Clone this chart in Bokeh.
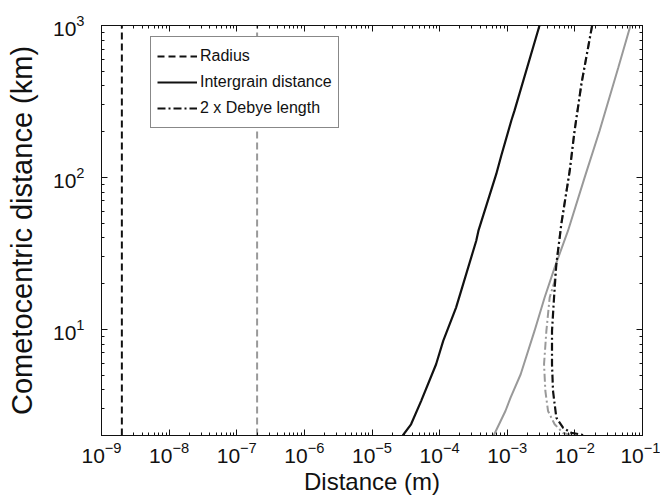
from bokeh.plotting import figure
from bokeh.models import LogAxis, FixedTicker, Legend, LegendItem, Range1d, CustomJSTickFormatter
from bokeh.embed import file_html
from bokeh.resources import INLINE

# ---- data ----
x_decades = [-9, -8, -7, -6, -5, -4, -3, -2, -1]
y_decades = [1, 2, 3]
x_limits = [1e-9, 1e-1]
y_limits = [2, 1000]

radius_km = [2, 1000]
radius_black_m = [2e-9, 2e-9]
radius_gray_m = [2e-7, 2e-7]

inter_black_km = [1000, 275, 237, 139, 105, 44.6, 38.3, 17.9, 13.9, 8.4, 5.89, 3.37, 2.37, 2.0]
inter_black_m = [3.0e-3, 1.28e-3, 1.15e-3, 8.15e-4, 6.87e-4, 3.75e-4, 3.48e-4, 2.08e-4, 1.75e-4,
                 1.13e-4, 8.87e-5, 5.32e-5, 3.78e-5, 2.85e-5]

inter_gray_km = [1000, 531, 203, 100, 44.6, 25.5, 16.2, 9.76, 5.06, 3.55, 2.90, 2.0]
inter_gray_m = [6.64e-2, 4.4e-2, 2.32e-2, 1.396e-2, 7.92e-3, 5.02e-3, 3.57e-3, 2.53e-3, 1.58e-3,
                1.12e-3, 9.4e-4, 6.3e-4]

debye_black_km = [1000, 413, 203, 111, 49.3, 40.2, 26.9, 16.2, 9.76, 5.89, 3.93, 2.62, 2.25, 2.08, 2.03, 2.0]
debye_black_m = [1.8e-2, 1.25e-2, 9.9e-3, 8.4e-3, 6.3e-3, 5.96e-3, 5.32e-3, 4.92e-3, 4.59e-3, 4.59e-3,
                 4.75e-3, 5.32e-3, 6.68e-3, 8.9e-3, 1.25e-2, 1.35e-2]

debye_gray_km = [1000, 413, 203, 111, 49.3, 40.2, 26.9, 20.8, 16.2, 9.76, 5.89, 3.93, 2.90, 2.37, 2.08, 2.0]
debye_gray_m = [1.8e-2, 1.25e-2, 9.9e-3, 8.4e-3, 6.3e-3, 5.96e-3, 5.32e-3, 5.02e-3, 4.24e-3, 3.79e-3,
                3.5e-3, 3.66e-3, 4.01e-3, 5.02e-3, 6.68e-3, 9.4e-3]

labels = ["Radius", "Intergrain distance", "2 x Debye length"]

# ---- styles ----
BLACK = "#111111"
GRAY = "#999999"
FONT = "Liberation Sans"
DASH = "7 4"
DASHDOT = "8 3 2 3"

x_major = [10.0 ** d for d in x_decades]
x_minor = [k * 10.0 ** d for d in x_decades[:-1] for k in range(2, 10)]
y_major = [10.0 ** d for d in y_decades]
y_minor = [k * 10.0 ** d for d in [0] + y_decades[:-1] for k in range(2, 10)]

p = figure(width=660, height=502, x_axis_type="log", y_axis_type="log",
           x_range=Range1d(*x_limits), y_range=Range1d(*y_limits), title=None,
           output_backend="svg", toolbar_location=None,
           min_border_left=101, min_border_right=18, min_border_top=25, min_border_bottom=67,
           background_fill_color="white", border_fill_color="white")
p.xgrid.visible = False
p.ygrid.visible = False
p.outline_line_color = BLACK
p.outline_line_width = 1


def style_axis(ax, ticker, show_labels):
    ax.ticker = ticker
    ax.axis_line_color = BLACK
    ax.major_tick_line_color = BLACK
    ax.minor_tick_line_color = BLACK
    ax.major_tick_in = 6
    ax.major_tick_out = 0
    ax.minor_tick_in = 3
    ax.minor_tick_out = 0
    if not show_labels:
        ax.formatter = CustomJSTickFormatter(code="return ''")
        ax.major_label_text_font_size = "2px"
        ax.major_label_standoff = 0


xt = FixedTicker(ticks=x_major, minor_ticks=x_minor)
yt = FixedTicker(ticks=y_major, minor_ticks=y_minor)

style_axis(p.xaxis[0], xt, True)
style_axis(p.yaxis[0], yt, True)
for ax in (p.xaxis[0], p.yaxis[0]):
    ax.major_label_text_font = FONT
    ax.major_label_text_font_size = "21px"
    ax.major_label_text_color = BLACK
    ax.axis_label_text_font_style = "normal"
    ax.axis_label_text_color = BLACK
    ax.axis_label_text_font = FONT

p.xaxis[0].axis_label = "Distance (m)"
p.xaxis[0].axis_label_text_font_size = "24px"
p.xaxis[0].major_label_standoff = 6
p.xaxis[0].axis_label_standoff = 2

p.yaxis[0].axis_label = "Cometocentric distance (km)"
p.yaxis[0].axis_label_text_font_size = "29px"
p.yaxis[0].major_label_standoff = 17
p.yaxis[0].axis_label_standoff = 12

top = LogAxis()
style_axis(top, FixedTicker(ticks=x_major, minor_ticks=x_minor), False)
p.add_layout(top, "above")
right = LogAxis()
style_axis(right, FixedTicker(ticks=y_major, minor_ticks=y_minor), False)
p.add_layout(right, "right")

# ---- lines ----
p.line(radius_gray_m, radius_km, line_color=GRAY, line_width=2, line_dash=DASH)
p.line(inter_gray_m, inter_gray_km, line_color=GRAY, line_width=2)
p.line(debye_gray_m, debye_gray_km, line_color=GRAY, line_width=2, line_dash=DASHDOT)

r_rad = p.line(radius_black_m, radius_km, line_color=BLACK, line_width=2, line_dash=DASH)
r_int = p.line(inter_black_m, inter_black_km, line_color=BLACK, line_width=2.2)
r_deb = p.line(debye_black_m, debye_black_km, line_color=BLACK, line_width=2.2, line_dash=DASHDOT)

legend = Legend(items=[LegendItem(label=labels[0], renderers=[r_rad]),
                       LegendItem(label=labels[1], renderers=[r_int]),
                       LegendItem(label=labels[2], renderers=[r_deb])],
                location=(49, 307))
legend.label_text_font = FONT
legend.label_text_font_size = "16px"
legend.label_text_color = BLACK
legend.glyph_width = 40
legend.glyph_height = 26
legend.label_height = 26
legend.label_standoff = 3
legend.spacing = 0
legend.padding = 6
legend.margin = 0
legend.border_line_color = BLACK
legend.border_line_width = 1
legend.background_fill_color = "white"
legend.background_fill_alpha = 1.0
p.add_layout(legend, "center")

open("out.html", "w").write(file_html(p, INLINE))
